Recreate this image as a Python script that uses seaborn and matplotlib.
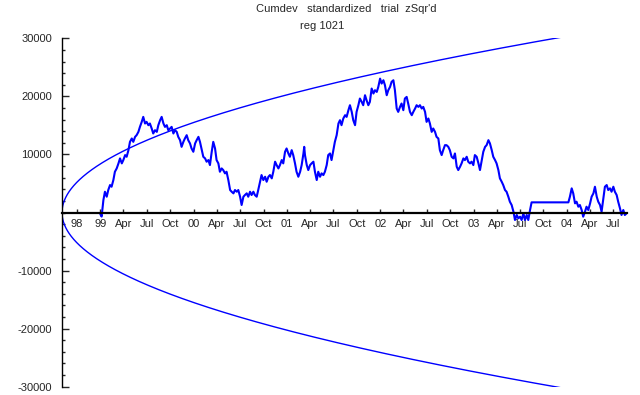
import numpy as np
import pandas as pd
import matplotlib
matplotlib.use("Agg")
import matplotlib.pyplot as plt
import seaborn as sns
from matplotlib.ticker import MultipleLocator

# days counted from the start of the run (1998-08-04)
start = pd.Timestamp("1998-08-04")

days = [150, 155, 162, 168, 175, 181, 188, 194, 201, 207, 214, 221, 227, 234, 240, 247, 253, 260,
        266, 273, 279, 286, 292, 299, 305, 312, 318, 325, 331, 338, 344, 351, 357, 364, 371, 377,
        384, 390, 397, 403, 410, 416, 423, 429, 436, 442, 449, 455, 462, 468, 475,
        481, 488, 494, 501, 507, 514, 521, 527, 534, 540, 547, 553, 560, 566, 573, 579, 586, 592,
        599, 605, 612, 618, 625, 631, 638, 644, 651, 658, 664, 671, 677, 684, 690, 697, 703, 710,
        716, 723, 729, 736, 742, 749, 755, 762, 768, 775, 781, 788, 795, 801, 808, 814, 821, 827,
        834, 840, 847, 853, 860, 866, 873, 879, 886, 892, 899, 905, 912, 918, 925, 932, 938, 945,
        948, 951, 958, 964, 971, 977, 984, 990, 997, 1003, 1010, 1016, 1023, 1029, 1036, 1042,
        1049, 1055, 1062, 1068, 1075, 1082, 1088, 1094, 1101, 1108, 1114, 1121, 1127, 1134, 1140,
        1147, 1153, 1160, 1166, 1173, 1179,
        1186, 1192, 1199, 1205, 1212, 1219, 1225, 1232, 1238, 1245, 1251, 1258, 1264, 1271, 1277,
        1284, 1290, 1297, 1303, 1310, 1316, 1323, 1329, 1336, 1342, 1349, 1355, 1362, 1369, 1375,
        1382, 1388, 1395, 1401, 1408, 1414, 1421, 1427, 1434, 1440, 1447, 1453, 1460, 1466, 1473,
        1479, 1486, 1492, 1499, 1505, 1512, 1518, 1525, 1532,
        1538, 1545, 1551, 1558, 1564, 1571, 1577, 1584, 1590, 1597, 1603, 1610, 1616, 1623, 1630,
        1636, 1643, 1649, 1656, 1662, 1669, 1675, 1682, 1688, 1695, 1701, 1708, 1714, 1721, 1727,
        1734, 1740, 1747, 1753, 1760, 1767, 1773, 1780, 1786, 1793, 1799, 1806, 1812, 1819, 1825,
        1832, 1838, 1982,
        1988, 1995, 2001, 2008, 2014, 2021, 2027, 2034, 2040, 2047, 2053, 2060, 2067, 2073, 2080,
        2086, 2093, 2099, 2106, 2112, 2119, 2125, 2132, 2138, 2145, 2151, 2158, 2164, 2171, 2177,
        2184, 2190, 2197, 2203, 2210]

cumdev = [-300, -700, 2150, 3580, 2720, 3870, 4730, 4440, 5590, 7020, 7590, 8460, 9320, 8460, 9030,
          9890, 9600, 10740, 12170, 12750, 12170, 13030, 13320, 13890, 14750, 15610, 16470, 15330,
          15610, 15040, 15330, 14470, 13610, 14180, 13890, 15040, 15900, 16470, 15330, 14750, 15040,
          14180, 14470, 14750, 13610, 14180, 13890, 13030, 12460, 11310, 12170,
          12750, 13320, 12460, 11900, 11030, 10460, 11900, 12460, 13030, 12170, 10740, 9600, 9320,
          8750, 9030, 8170, 10460, 12170, 11030, 9030, 8460, 7020, 7590, 7310, 6740, 7020, 5590,
          3870, 3580, 3300, 3870, 3580, 3870, 2720, 1290, 2720, 3010, 3300, 2720, 3580, 3010, 3580,
          3010, 2720, 3870, 5300, 6450, 5590, 6160, 5300, 6160, 6450, 5880, 7020,
          8750, 8170, 7590, 8170, 9030, 8460, 10460, 11030, 10170, 9600, 10740, 9890, 8460, 7020,
          6160, 7020, 8170, 10170, 11310, 9890, 8170, 7310, 8170, 8460, 8750, 7020, 5590, 7020,
          6160, 6740, 6450, 7020, 8170, 9890, 10170, 9030, 10740, 12170, 13320, 15330, 15900, 15040,
          16190, 16760, 16470, 17620, 18480, 17330, 15900, 15040, 17330, 18480, 19630, 19050, 18480,
          20200, 19340, 18480, 19050, 21350, 20490, 21060, 20770, 21630, 23060, 22210, 22780, 21920,
          20200, 21060, 21630, 22500, 22780, 21060, 17910, 17330, 18190, 18770, 17620, 19630, 19910,
          18770, 17330, 16760, 17330, 17910, 18480, 18190, 18480, 17910, 18190, 17330, 15610, 16190,
          15330, 13890, 14470, 13890, 13030, 12750, 10740, 9890, 10740, 11600, 11600, 11310, 10740,
          9600, 9320,
          10170, 7880, 7310, 7880, 8460, 9320, 9030, 9600, 8750, 8460, 8750, 8170, 9890, 9600, 8460,
          7310, 9030, 10460, 11310, 11600, 12460, 11900, 10740, 9600, 9030, 8460, 7310, 5880, 5300,
          4730, 3870, 3580, 2720, 1860, 1290, 140, -1290, -430, -1000, -720, -1290, -140, -1290,
          -430, -1290, 430, 1750, 1750,
          2720, 4160, 3300, 1580, 1860, 1000, 1290, 430, -720, 140, 1000, 430, 1580, 2720, 3300,
          4440, 2720, 1860, 1290, 140, 2430, 4440, 4730, 3870, 4160, 3580, 4440, 3580, 3010, 1860,
          720, -430, 430, -430, -140]

# envelope reaches 30000 around day 1930 -> scale of sqrt(days)
env_scale = 683.0
last_day = 2212

tick_dates = ["1998-10-01", "1999-01-01", "1999-04-01", "1999-07-01", "1999-10-01",
              "2000-01-01", "2000-04-01", "2000-07-01", "2000-10-01",
              "2001-01-01", "2001-04-01", "2001-07-01", "2001-10-01",
              "2002-01-01", "2002-04-01", "2002-07-01", "2002-10-01",
              "2003-01-01", "2003-04-01", "2003-07-01", "2003-10-01",
              "2004-01-01", "2004-04-01", "2004-07-01"]
tick_labels = ["98", "99", "Apr", "Jul", "Oct", "00", "Apr", "Jul", "Oct",
               "01", "Apr", "Jul", "Oct", "02", "Apr", "Jul", "Oct",
               "03", "Apr", "Jul", "Oct", "04", "Apr", "Jul"]
y_ticks = [-30000, -20000, -10000, 10000, 20000, 30000]

sns.set_style("white")
plt.rcParams["font.family"] = ["Liberation Sans", "DejaVu Sans"]

fig = plt.figure(figsize=(6.4, 3.95), dpi=100)
ax = fig.add_axes([0.0969, 0.021, 0.883, 0.882])

blue = "#0000ff"
env = pd.DataFrame({"day": np.arange(0, last_day + 1)})
env["upper"] = env_scale * np.sqrt(env["day"])
env["lower"] = -env["upper"]
sns.lineplot(data=env, x="day", y="upper", color=blue, lw=1.0, ax=ax, estimator=None)
sns.lineplot(data=env, x="day", y="lower", color=blue, lw=1.0, ax=ax, estimator=None)

df = pd.DataFrame({"day": days, "cumdev": cumdev})
sns.lineplot(data=df, x="day", y="cumdev", color=blue, lw=1.5, ax=ax, estimator=None)

ax.set_xlim(0, last_day)
ax.set_ylim(-30000, 30000)
ax.set_xlabel("")
ax.set_ylabel("")

for s in ["top", "right"]:
    ax.spines[s].set_visible(False)
ax.spines["bottom"].set_position(("data", 0))
ax.spines["bottom"].set_linewidth(1.6)
ax.spines["left"].set_linewidth(1.0)
for s in ["bottom", "left"]:
    ax.spines[s].set_color("black")

xt = [(pd.Timestamp(d) - start).days for d in tick_dates]
ax.set_xticks(xt, labels=tick_labels)
ax.set_yticks(y_ticks, labels=[str(v) for v in y_ticks])
ax.yaxis.set_minor_locator(MultipleLocator(2000))

ax.tick_params(axis="x", direction="in", length=3, width=1, pad=5, labelsize=8, bottom=True)
ax.tick_params(axis="y", which="major", direction="in", length=5, width=1, pad=7, labelsize=8, left=True)
ax.tick_params(axis="y", which="minor", direction="in", length=2.5, width=1, left=True)

fig.text(346 / 640, 1 - 9 / 395, "Cumdev   standardized   trial  zSqr'd",
         ha="center", va="center", fontsize=8)
fig.text(322 / 640, 1 - 26 / 395, "reg 1021", ha="center", va="center", fontsize=8)

fig.savefig("out.png", dpi=100)
